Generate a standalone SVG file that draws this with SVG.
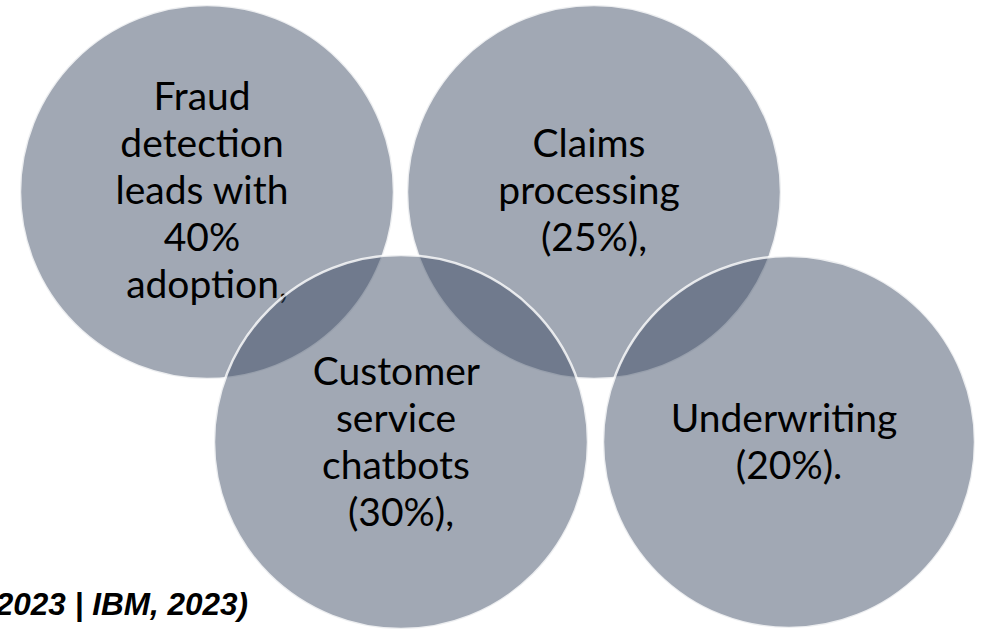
<svg xmlns="http://www.w3.org/2000/svg" width="983" height="630" viewBox="0 0 983 630">
  <style>
    .bubble { fill: #3A4A62; fill-opacity: 0.48; stroke: #ffffff; stroke-opacity: 0.8; stroke-width: 2.5; }
    .label { font-family: Lato, "Open Sans", sans-serif; font-size: 39px; fill: #000000; text-anchor: middle; }
    .source { font-family: "Liberation Sans", Arial, sans-serif; font-size: 31.5px; font-weight: bold; font-style: italic; fill: #000000; }
  </style>
  <rect width="983" height="630" fill="#ffffff"/>

  <g id="node-fraud">
    <circle class="bubble" cx="207" cy="192" r="187"/>
    <text class="label" x="207">
      <tspan x="207" y="110">Fraud</tspan>
      <tspan x="207" y="157">detection</tspan>
      <tspan x="207" y="204">leads with</tspan>
      <tspan x="207" y="251">40%</tspan>
      <tspan x="207" y="298">adoption,</tspan>
    </text>
  </g>

  <g id="node-claims">
    <circle class="bubble" cx="594" cy="192" r="187"/>
    <text class="label" x="594">
      <tspan x="594" y="157">Claims</tspan>
      <tspan x="594" y="204">processing</tspan>
      <tspan x="594" y="251">(25%),</tspan>
    </text>
  </g>

  <g id="node-customer">
    <circle class="bubble" cx="401" cy="442" r="187"/>
    <text class="label" x="401">
      <tspan x="401" y="385">Customer</tspan>
      <tspan x="401" y="432">service</tspan>
      <tspan x="401" y="479">chatbots</tspan>
      <tspan x="401" y="526">(30%),</tspan>
    </text>
  </g>

  <g id="node-underwriting">
    <circle class="bubble" cx="789" cy="442" r="186"/>
    <text class="label" x="789">
      <tspan x="789" y="432">Underwriting</tspan>
      <tspan x="789" y="479">(20%).</tspan>
    </text>
  </g>

  <g id="connectors"></g>

  <text class="source" x="248" y="615" text-anchor="end">2023 | IBM, 2023)</text>
</svg>
